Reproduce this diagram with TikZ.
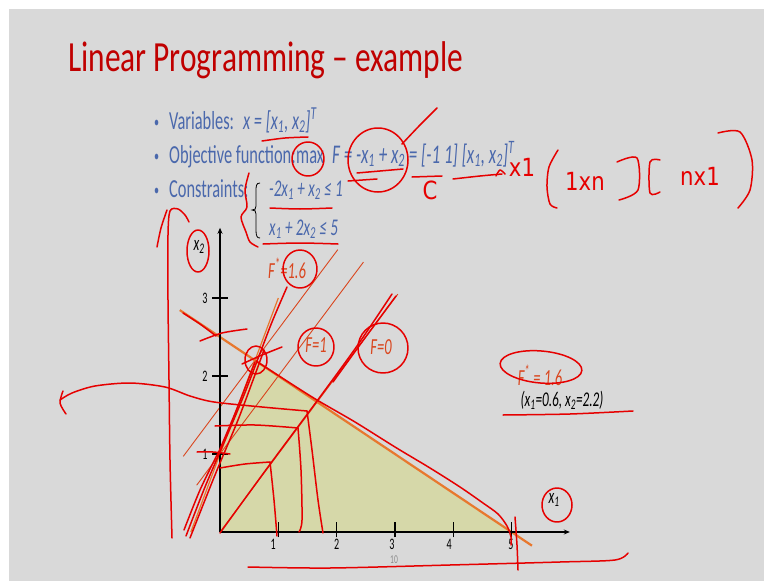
\documentclass[tikz,border=0pt]{standalone}
\usepackage{fontspec}
\usepackage{graphicx}
\setmainfont{Carlito}[FakeStretch=0.63]
\newfontfamily\titlefont{Carlito}[FakeStretch=0.73]
\newfontfamily\handfont{DejaVu Sans}[FakeStretch=0.85]
\usetikzlibrary{arrows.meta}

\definecolor{slidebg}{HTML}{D9D9D9}
\definecolor{titlered}{HTML}{C00000}
\definecolor{bodyblue}{HTML}{4A68AC}
\definecolor{inkred}{HTML}{E60000}
\definecolor{lineorange}{HTML}{E8782E}
\definecolor{fred}{HTML}{D9461E}
\definecolor{region}{HTML}{D6D8A9}
\definecolor{pagegrey}{HTML}{8C8C8C}

\tikzset{
  txt/.style={inner sep=0pt, anchor=base west},
  body/.style={txt, text=bodyblue, font=\fontsize{26}{30}\selectfont},
  mathline/.style={txt, text=bodyblue, font=\itshape\fontsize{27}{30}\selectfont},
  consline/.style={txt, text=bodyblue, font=\itshape\fontsize{24}{28}\selectfont},
  bul/.style={txt, text=bodyblue, font=\fontsize{16}{18}\selectfont},
  plotlbl/.style={inner sep=0pt, font=\fontsize{16}{18}\selectfont},
  axlbl/.style={inner sep=0pt, font=\itshape\fontsize{21}{24}\selectfont},
  flbl/.style={inner sep=0pt, text=fred, font=\itshape\fontsize{23}{26}\selectfont},
  axis/.style={draw=black, line width=1.3pt},
  tickmark/.style={draw=black, line width=1.3pt},
  fline/.style={draw=fred, line width=0.9pt},
  cline/.style={draw=lineorange, line width=2.2pt},
  ink/.style={draw=inkred, line width=1.5pt, line cap=round, line join=round},
  handtxt/.style={inner sep=0pt, text=inkred, font=\handfont\fontsize{25}{28}\selectfont},
}

\begin{document}
\begin{tikzpicture}[x=1pt, y=-1pt]
% slide background
\fill[white] (0,0) rectangle (764,581);
\fill[slidebg] (9,9) rectangle (764,581);
\useasboundingbox (0,0) rectangle (764,581);

% title
\node[txt, text=titlered, font=\titlefont\fontsize{43}{48}\selectfont] (title) at (68,71) {Linear Programming – example};

% bullet list
\node[bul] (b1) at (154,127) {\textbullet};
\node[bul] (b2) at (154,161) {\textbullet};
\node[bul] (b3) at (154,195) {\textbullet};
\node[body] (var) at (169,129) {Variables:};
\node[body] (varx) at (243,129) {\itshape x = [x\textsubscript{1}, x\textsubscript{2}]\textsuperscript{T}};
\node[body] (obj) at (169,163) {Objective function:};
\node[body] (objmax) at (296,163) {max};
\node[mathline] (objf) at (332,163) {F = -x\textsubscript{1} + x\textsubscript{2} = [-1 1] [x\textsubscript{1}, x\textsubscript{2}]\textsuperscript{T}};
\node[body] (con) at (169,197) {Constraints:};
\node[consline] (c1) at (269,196) {-2x\textsubscript{1} + x\textsubscript{2} ≤ 1};
\node[consline] (c2) at (269,235) {x\textsubscript{1} + 2x\textsubscript{2} ≤ 5};
% brace grouping the constraints
\draw[black, line width=0.8pt] (260,183) .. controls (256,183) and (256,186) .. (256,192)
  -- (256,206) .. controls (256,209) and (255,210) .. (252,210)
  .. controls (255,210) and (256,211) .. (256,214) -- (256,230)
  .. controls (256,236) and (257,238) .. (260,238);

% ---------- graph ----------
\begin{scope}[shift={(220,532)}, x=58.3pt, y=78pt]
  \fill[region] (0,0) -- (0,1) -- (0.6,2.2) -- (5,0) -- cycle;
  % objective lines
  \draw[fline] (-0.63,0.97) -- (2.02,3.62);
  \draw[fline] (-0.4,0.6) -- (2.46,3.46);
  \draw[fline] (0,0) -- (3.05,3.05);
  % constraint lines
  \draw[draw=lineorange, line width=1.2pt] (-0.5,0) -- (1,3);
  \draw[cline] (-0.69,2.845) -- (5.35,-0.175);
  % axes
  \draw[axis, -{Stealth[length=6pt,width=5pt]}] (0,0) -- (6.0,0);
  \draw[axis, -{Stealth[length=6pt,width=5pt]}] (0,0) -- (0,3.9);
  \foreach \i in {1,...,5} \draw[tickmark] (\i,-0.07) -- (\i,0.13);
  \foreach \j in {1,2,3} \draw[tickmark] (-0.137,\j) -- (0.137,\j);
  \node[plotlbl] (tx1) at (0.91,-0.155) {1};
  \node[plotlbl] (tx2) at (2.0,-0.155) {2};
  \node[plotlbl] (tx3) at (2.95,-0.155) {3};
  \node[plotlbl] (tx4) at (3.93,-0.155) {4};
  \node[plotlbl] (tx5) at (4.99,-0.155) {5};
  \node[plotlbl] (ty1) at (-0.26,1) {1};
  \node[plotlbl] (ty2) at (-0.26,2) {2};
  \node[plotlbl] (ty3) at (-0.26,3) {3};
\end{scope}

\node[axlbl] (xtwo) at (199,247) {x\textsubscript{2}};
\node[axlbl] (xone) at (554,500) {x\textsubscript{1}};
\node[flbl] (fstar) at (287,268) {F\textsuperscript{*}=1.6};
\node[flbl] (fone) at (316,345) {F=1};
\node[flbl] (fzero) at (381,347) {F=0};
\node[flbl] (fopt) at (540,375) {F\textsuperscript{*} = 1.6};
\node[axlbl] (xopt) at (562,400) {(x\textsubscript{1}=0.6, x\textsubscript{2}=2.2)};
\node[plotlbl, text=pagegrey, font=\fontsize{12}{14}\selectfont] (page) at (394,560) {10};

% ---------- handwritten notes ----------
% underlines and circles on the text
\draw[ink] plot[smooth] coordinates {(262,141) (285,138) (308,137)};
\draw[ink] (308,159) ellipse [x radius=16pt, y radius=17pt];
\draw[ink] (378,160) ellipse [x radius=30pt, y radius=32pt];
\draw[ink] plot[smooth] coordinates {(402,144) (420,125) (437,108)};
\draw[ink] plot[smooth] coordinates {(348,181) (377,179)};
\draw[ink] plot[smooth] coordinates {(357,173) (380,171) (403,169)};
\draw[ink] plot[smooth] coordinates {(412,177) (442,176)};
\node[handtxt] (cvec) at (430,190) {C};
\draw[ink] plot[smooth] coordinates {(453,179) (480,176) (502,174)};
\draw[ink] plot[smooth] coordinates {(496,176) (500,170) (505,174)};
\node[handtxt] (hx1) at (522,167) {x1};
\draw[ink] plot[smooth] coordinates {(558,150) (549,167) (547,187) (550,204) (557,208)};
\node[handtxt] (dimrow) at (585,181) {1xn};
\draw[ink] plot[smooth] coordinates {(617,162) (637,158) (638,190) (619,200)};
\draw[ink] plot[smooth] coordinates {(660,160) (650,162) (650,193) (660,192)};
\node[handtxt] (dimcol) at (700,176) {nx1};
\draw[ink] plot[smooth] coordinates {(718,133) (740,132) (752,160) (750,190) (738,208)};
\draw[ink] plot[smooth] coordinates {(249,173) (245,190) (247,207) (241,217) (246,232) (250,242) (258,247)};
\draw[ink] plot[smooth] coordinates {(270,208) (300,209) (332,208)};
\draw[ink] plot[smooth] coordinates {(263,244) (300,243) (338,244)};

% marks on the graph
\draw[ink] plot[smooth] coordinates {(172,538) (170,460) (169,380) (168,300) (168,235) (170,211) (178,209) (185,215) (189,222)};
\draw[ink] plot[smooth] coordinates {(157,247) (161,228) (167,210)};
\draw[ink] plot[smooth] coordinates {(307,411) (262,407) (214,402) (190,396) (165,387) (130,383) (95,386) (72,393) (60,400)};
\draw[ink] plot[smooth] coordinates {(63,391) (60,403) (66,414)};
\draw[ink] plot[smooth] coordinates {(307,411) (312,450) (318,500) (323,533)};
\draw[ink] plot[smooth] coordinates {(215,426) (255,425) (298,428)};
\draw[ink] plot[smooth] coordinates {(298,428) (301,470) (302,520) (299,532)};
\draw[ink] plot[smooth] coordinates {(220,468) (245,464) (270,462)};
\draw[ink] plot[smooth] coordinates {(270,462) (274,500) (277,536)};
\draw[ink] plot[smooth] coordinates {(220,533) (268,467) (317,401) (357,346) (392,294)};
\draw[ink] plot[smooth] coordinates {(333,382) (362,342) (396,296)};
\draw[ink] plot[smooth] coordinates {(186,536) (205,487) (226,438) (244,395) (259,356) (272,322) (287,287)};
\draw[ink] plot[smooth] coordinates {(190,538) (215,475) (238,420) (256,372) (264,350)};
\draw[ink] plot[smooth] coordinates {(184,530) (200,490) (217,455)};
\draw[ink] plot[smooth] coordinates {(217,456) (236,411) (255,362)};
\draw[ink] plot[smooth] coordinates {(197,452) (213,452) (230,454)};
\draw[ink] (256,360) ellipse [x radius=11pt, y radius=14pt];
\draw[ink] plot[smooth] coordinates {(242,364) (262,355) (282,347)};
\draw[ink] plot[smooth] coordinates {(200,341) (222,333) (247,329)};
\draw[ink] plot[smooth] coordinates {(183,313) (200,324) (216,336)};
\draw[ink] plot[smooth] coordinates {(256,361) (290,383) (317,400) (355,422) (395,447) (430,468) (460,487) (483,503) (498,514) (507,526) (511,537) (511,545)};
\draw[ink] plot[smooth] coordinates {(515,517) (517,545) (518,570)};
\draw[ink] plot[smooth] coordinates {(248,567) (330,568) (450,565) (560,562) (615,560) (628,553)};
\draw[ink] (198,251) ellipse [x radius=11pt, y radius=21pt];
\draw[ink] (300,269) ellipse [x radius=17pt, y radius=19pt];
\draw[ink] (316,347) ellipse [x radius=18pt, y radius=19pt];
\draw[ink] (383,348) ellipse [x radius=25pt, y radius=25pt];
\draw[ink, rotate around={-5:(541,367)}] (541,367) ellipse [x radius=41pt, y radius=16pt];
\draw[ink] (557,505) ellipse [x radius=15pt, y radius=17pt];
\draw[ink] plot[smooth] coordinates {(503,415) (570,414) (633,411)};
\end{tikzpicture}
\end{document}
